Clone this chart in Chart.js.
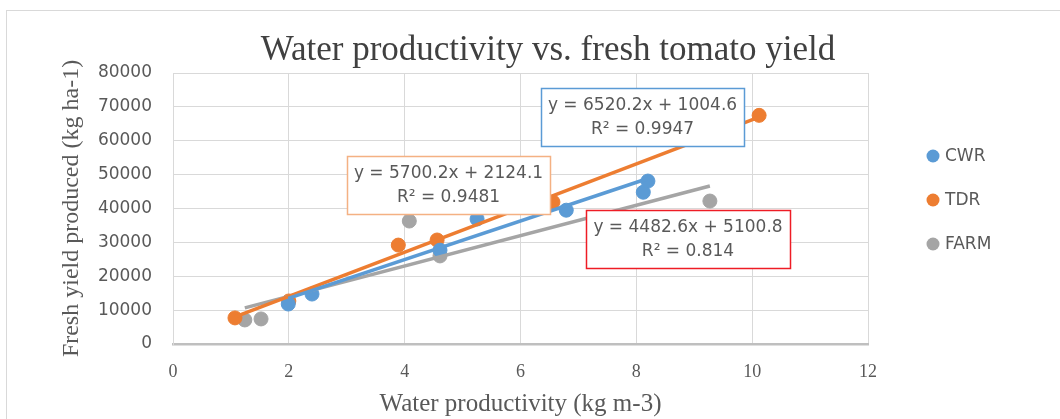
<!DOCTYPE html>
<html>
<head>
<meta charset="utf-8">
<script src="https://cdn.jsdelivr.net/npm/chart.js@4"></script>
<style>
  html, body { margin: 0; padding: 0; background: #fff; }
  #wrap { width: 1060px; height: 419px; }
</style>
</head>
<body>
<div id="wrap"><canvas id="myChart" width="1060" height="419"></canvas></div>
<script>
// series
const seriesNames = ['CWR', 'TDR', 'FARM'];
const seriesColors = ['#5B9BD5', '#ED7D31', '#A5A5A5'];

const cwrX = [1.99, 2.40, 4.61, 5.25, 6.34, 6.79, 8.12, 8.20];
const cwrY = [11800, 14750, 27700, 36900, 43650, 39500, 44800, 48100];

const tdrX = [1.07, 2.00, 3.89, 4.56, 6.56, 10.12];
const tdrY = [7700, 12700, 29200, 30700, 41900, 67500];

const farmX = [1.24, 1.52, 4.08, 4.61, 9.27];
const farmY = [7100, 7400, 36300, 26000, 42200];

// trendline equations as printed on the chart (slope, intercept)
const fitSlope = [5700.2, 6520.2, 4482.6];
const fitIntercept = [2124.1, 1004.6, 5100.8];
const fitLabels = [
  ['y = 5700.2x + 2124.1', 'R² = 0.9481'],
  ['y = 6520.2x + 1004.6', 'R² = 0.9947'],
  ['y = 4482.6x + 5100.8', 'R² = 0.814']
];

const xTicks = [0, 2, 4, 6, 8, 10, 12];
const yTicks = [0, 10000, 20000, 30000, 40000, 50000, 60000, 70000, 80000];

const chartTitle = 'Water productivity vs. fresh tomato yield';

const allX = [cwrX, tdrX, farmX];
const allY = [cwrY, tdrY, farmY];

let datasets = [];
for (let i = 0; i < 3; i++) {
  let pts = allX[i].map(function (x, j) { return {x: x, y: allY[i][j]}; });
  datasets.push({
    type: 'scatter',
    label: seriesNames[i],
    data: pts,
    backgroundColor: seriesColors[i],
    borderColor: seriesColors[i],
    pointRadius: 7,
    pointHoverRadius: 7,
    order: 2
  });
}
for (let i = 0; i < 3; i++) {
  let x0 = Math.min.apply(null, allX[i]);
  let x1 = Math.max.apply(null, allX[i]);
  datasets.push({
    type: 'line',
    label: seriesNames[i] + ' fit',
    data: [
      {x: x0, y: fitSlope[i] * x0 + fitIntercept[i]},
      {x: x1, y: fitSlope[i] * x1 + fitIntercept[i]}
    ],
    borderColor: seriesColors[i],
    borderWidth: 3.5,
    pointRadius: 0,
    fill: false,
    order: 1
  });
}

// equation boxes: which equation goes in which box, and the box outline colour
const boxes = [
  {eq: 1, x: 541, y: 88, w: 203, h: 58, color: '#5B9BD5'},
  {eq: 0, x: 347, y: 156, w: 203, h: 58, color: '#F4B183'},
  {eq: 2, x: 586, y: 210, w: 204, h: 58, color: '#EE1C25'}
];

const framePlugin = {
  id: 'frame',
  beforeDraw: function (chart) {
    const ctx = chart.ctx;
    ctx.save();
    ctx.fillStyle = '#ffffff';
    ctx.fillRect(0, 0, chart.width, chart.height);
    ctx.strokeStyle = '#d9d9d9';
    ctx.lineWidth = 1;
    ctx.strokeRect(6.5, 10.5, 1200, 600);
    ctx.restore();
  },
  afterDraw: function (chart) {
    const ctx = chart.ctx;
    ctx.save();
    // title, centred on the whole figure rather than the plot area
    ctx.fillStyle = '#404040';
    ctx.font = '35px "Liberation Serif"';
    ctx.textAlign = 'center';
    ctx.textBaseline = 'middle';
    ctx.fillText(chartTitle, 548, 51);

    // equation boxes
    boxes.forEach(function (b) {
      ctx.fillStyle = '#ffffff';
      ctx.fillRect(b.x, b.y, b.w, b.h);
      ctx.strokeStyle = b.color;
      ctx.lineWidth = 1.5;
      ctx.strokeRect(b.x + 0.5, b.y + 0.5, b.w, b.h);
      ctx.fillStyle = '#595959';
      ctx.font = '17px "DejaVu Sans"';
      ctx.textAlign = 'center';
      ctx.textBaseline = 'middle';
      const lines = fitLabels[b.eq];
      ctx.fillText(lines[0], b.x + b.w / 2, b.y + 18);
      ctx.fillText(lines[1], b.x + b.w / 2, b.y + 42);
    });
    // legend (scatter series only)
    ctx.font = '17px "DejaVu Sans"';
    ctx.textAlign = 'left';
    ctx.textBaseline = 'middle';
    for (let i = 0; i < 3; i++) {
      const ds = chart.data.datasets[i];
      const cy = 156 + i * 44;
      ctx.fillStyle = ds.backgroundColor;
      ctx.beginPath();
      ctx.arc(933, cy, 6.5, 0, Math.PI * 2);
      ctx.fill();
      ctx.fillStyle = '#595959';
      ctx.fillText(ds.label, 945, cy + 1);
    }
    ctx.restore();
  }
};

const ctx = document.getElementById('myChart').getContext('2d');
const myChart = new Chart(ctx, {
  data: { datasets: datasets },
  options: {
    responsive: false,
    animation: false,
    layout: { padding: { left: 0, right: 192, top: 73, bottom: 0 } },
    plugins: {
      legend: { display: false },
      tooltip: { enabled: false },
      title: { display: false }
    },
    scales: {
      x: {
        type: 'linear',
        min: 0,
        max: 12,
        afterBuildTicks: function (scale) {
          scale.ticks = xTicks.map(function (v) { return {value: v}; });
        },
        afterFit: function (scale) { scale.height = 75; },
        grid: { color: '#d9d9d9', drawTicks: false },
        border: { color: '#bfbfbf', width: 2.5 },
        ticks: {
          color: '#595959',
          padding: 17,
          font: { family: '"Liberation Serif"', size: 18 }
        },
        title: {
          display: true,
          text: 'Water productivity (kg m-3)',
          color: '#595959',
          font: { family: '"Liberation Serif"', size: 25 },
          padding: { top: 0, bottom: 0 }
        }
      },
      y: {
        type: 'linear',
        min: 0,
        max: 80000,
        afterBuildTicks: function (scale) {
          scale.ticks = yTicks.map(function (v) { return {value: v}; });
        },
        afterFit: function (scale) { scale.width = 173; },
        grid: { color: '#d9d9d9', drawTicks: false },
        border: { color: '#d9d9d9', width: 1 },
        ticks: {
          color: '#595959',
          padding: 21,
          font: { family: '"DejaVu Sans"', size: 17 },
          callback: function (v) { return String(v); }
        },
        title: {
          display: true,
          text: 'Fresh yield produced (kg ha-1)',
          color: '#595959',
          font: { family: '"Liberation Serif"', size: 24 },
          padding: { top: 57, bottom: 0 }
        }
      }
    }
  },
  plugins: [framePlugin]
});
</script>
</body>
</html>
